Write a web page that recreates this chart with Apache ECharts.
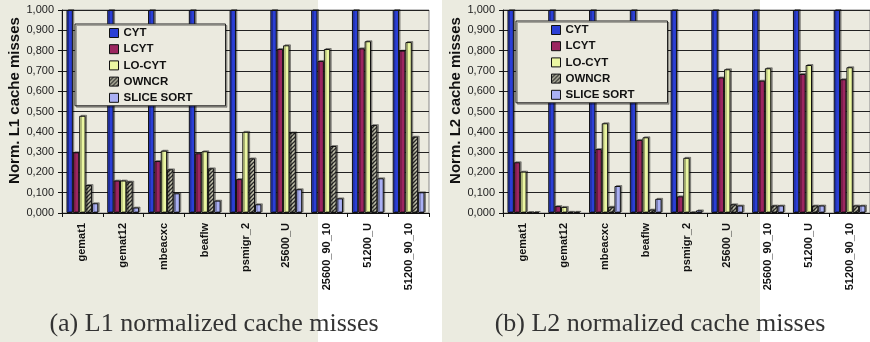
<!DOCTYPE html>
<html>
<head>
<meta charset="utf-8">
<script src="https://cdn.jsdelivr.net/npm/echarts@6/dist/echarts.min.js"></script>
<style>
  html, body { margin: 0; padding: 0; background: #fff; }
  /* beige scan background with the two white strips */
  #main {
    width: 870px; height: 342px;
    background: linear-gradient(to right, #ebebe0 0 318px, #fff 318px 442px, #ebebe0 442px 760px, #fff 760px);
  }
</style>
</head>
<body>
<div id="main"></div>
<script>
// categories (x axis)
const categories = ['gemat1', 'gemat12', 'mbeacxc', 'beaflw', 'psmigr_2',
  '25600_U', '25600_90_10', '51200_U', '51200_90_10'];
const seriesNames = ['CYT', 'LCYT', 'LO-CYT', 'OWNCR', 'SLICE SORT'];
const captions = ['(a) L1 normalized cache misses', '(b) L2 normalized cache misses'];
const yNames = ['Norm. L1 cache misses', 'Norm. L2 cache misses'];

// (a) L1 values
const l1Cyt   = [1, 1, 1, 1, 1, 1, 1, 1, 1];
const l1Lcyt  = [0.299, 0.160, 0.256, 0.294, 0.167, 0.808, 0.749, 0.811, 0.800];
const l1LoCyt = [0.479, 0.160, 0.307, 0.304, 0.400, 0.826, 0.808, 0.846, 0.842];
const l1Owncr = [0.138, 0.155, 0.215, 0.220, 0.269, 0.397, 0.330, 0.433, 0.376];
const l1Slice = [0.048, 0.027, 0.097, 0.061, 0.043, 0.117, 0.072, 0.171, 0.102];

// (b) L2 values
const l2Cyt   = [1, 1, 1, 1, 1, 1, 1, 1, 1];
const l2Lcyt  = [0.250, 0.034, 0.315, 0.360, 0.082, 0.668, 0.652, 0.685, 0.659];
const l2LoCyt = [0.204, 0.030, 0.442, 0.373, 0.272, 0.708, 0.713, 0.729, 0.718];
const l2Owncr = [0.004, 0.006, 0.031, 0.017, 0.003, 0.043, 0.037, 0.037, 0.037];
const l2Slice = [0.004, 0.006, 0.133, 0.070, 0.013, 0.037, 0.037, 0.037, 0.037];

// hatched fill for OWNCR
function hatchCanvas() {
  const c = document.createElement('canvas');
  c.width = 4; c.height = 4;
  const g = c.getContext('2d');
  g.fillStyle = '#c2c2ac';
  g.fillRect(0, 0, 4, 4);
  g.strokeStyle = '#2a2a2a';
  g.lineWidth = 1.3;
  g.beginPath();
  g.moveTo(0, 4); g.lineTo(4, 0);
  g.moveTo(-1, 1); g.lineTo(1, -1);
  g.moveTo(3, 5); g.lineTo(5, 3);
  g.stroke();
  return c;
}

function initChart() {
  const chart = echarts.init(document.getElementById('main'), null, { renderer: 'canvas' });
  const font = 'Liberation Sans, Arial, sans-serif';
  const fills = ['#2b3fd6', '#9c2660', '#ebf7a2', { image: hatchCanvas(), repeat: 'repeat' }, '#aab0f4'];
  const panels = [
    [l1Cyt, l1Lcyt, l1LoCyt, l1Owncr, l1Slice],
    [l2Cyt, l2Lcyt, l2LoCyt, l2Owncr, l2Slice]
  ];
  const gridLeft = [62, 503];

  const series = [];
  panels.forEach((arrs, p) => {
    arrs.forEach((vals, i) => {
      series.push({
        name: seriesNames[i],
        type: 'bar',
        xAxisIndex: p,
        yAxisIndex: p,
        data: vals,
        barGap: '0%',
        barCategoryGap: '22%',
        itemStyle: {
          color: fills[i],
          borderColor: '#111',
          borderWidth: 1,
          shadowColor: 'rgba(0,0,0,0.35)',
          shadowOffsetX: 1.5,
          shadowOffsetY: -1
        }
      });
    });
  });

  const option = {
    animation: false,
    grid: gridLeft.map(l => ({
      left: l, top: 10, width: 367, height: 203,
      show: true, backgroundColor: '#ebeadf', borderColor: '#888', borderWidth: 1
    })),
    xAxis: gridLeft.map((l, p) => ({
      type: 'category', gridIndex: p, data: categories,
      axisLine: { lineStyle: { color: '#111', width: 1 } },
      axisTick: { show: true, length: 4, lineStyle: { color: '#111' } },
      axisLabel: { rotate: 90, interval: 0, margin: 10, fontFamily: font,
        fontWeight: 'bold', fontSize: 11, color: '#111' }
    })),
    yAxis: gridLeft.map((l, p) => ({
      type: 'value', gridIndex: p, min: 0, max: 1, interval: 0.1,
      name: yNames[p], nameLocation: 'middle', nameGap: p === 0 ? 40 : 38,
      nameTextStyle: { fontFamily: font, fontWeight: 'bold', fontSize: 15, color: '#111',
        padding: [0, 0, 0, 22] },
      axisLine: { show: true, lineStyle: { color: '#111', width: 1 } },
      axisTick: { show: true, length: 4, lineStyle: { color: '#111' } },
      axisLabel: { margin: 8, fontFamily: font, fontSize: 11, color: '#222',
        formatter: v => v.toFixed(3).replace('.', ',') },
      splitLine: { show: true, lineStyle: { color: '#222', width: 1 } }
    })),
    legend: [
      { left: 75, top: 24, padding: [2, 33, 1, 34] },
      { left: 516, top: 21, padding: [2, 33, 1, 35] }
    ].map(pos => Object.assign({
      data: seriesNames, orient: 'vertical', itemWidth: 9, itemHeight: 9,
      itemGap: 2.2, itemTextGap: 2, icon: 'rect',
      backgroundColor: '#ebeadf', borderColor: '#222', borderWidth: 1,
      shadowColor: 'rgba(0,0,0,0.3)', shadowOffsetX: 1.5, shadowOffsetY: 1.5,
      itemStyle: { borderColor: '#111', borderWidth: 1, shadowColor: 'transparent' },
      textStyle: { fontFamily: font, fontWeight: 'bold', fontSize: 11.5, color: '#111',
        lineHeight: 14 }
    }, pos)),
    graphic: captions.map((t, p) => ({
      type: 'text', left: 'center', z: 100,
      x: p === 0 ? 214 : 660, y: 324,
      style: { text: t, font: '26px "Liberation Serif", "Times New Roman", serif',
        fill: '#333', textAlign: 'center', textVerticalAlign: 'middle' }
    })),
    series: series
  };
  // graphic 'left' conflicts with x; drop it
  option.graphic.forEach(g => delete g.left);

  chart.setOption(option);
  window.addEventListener('resize', () => chart.resize());
}

window.onload = initChart;
</script>
</body>
</html>
